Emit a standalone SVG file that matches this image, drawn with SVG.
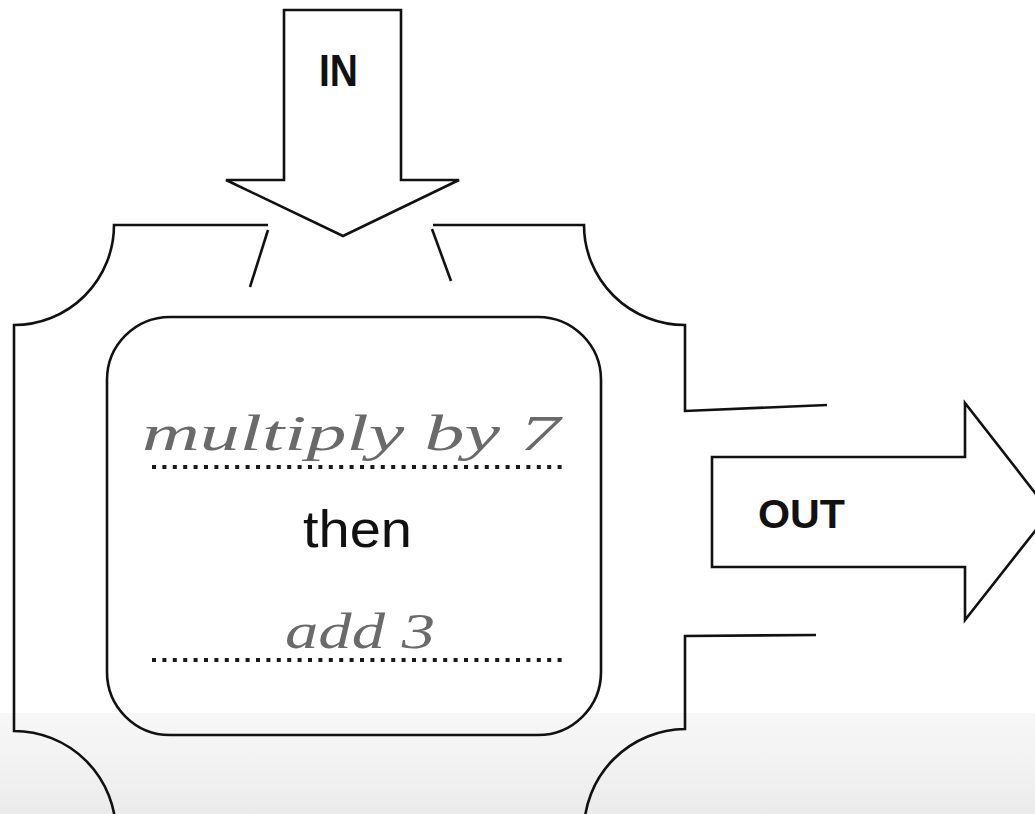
<svg xmlns="http://www.w3.org/2000/svg" width="1035" height="814" viewBox="0 0 1035 814">
  <defs>
    <linearGradient id="band" x1="0" y1="0" x2="0" y2="1">
      <stop offset="0" stop-color="#f7f7f7"/>
      <stop offset="0.5" stop-color="#f2f2f2"/>
      <stop offset="1" stop-color="#ebebeb"/>
    </linearGradient>
  </defs>
  <style>
    .ln { fill: none; stroke: #111; stroke-width: 2.6; stroke-linejoin: miter; }
    .arrow { fill: #fff; stroke: #111; stroke-width: 2.6; stroke-linejoin: miter; }
    .dots { fill: none; stroke: #1a1a1a; stroke-width: 4; stroke-dasharray: 4 6.4; }
    .hand { font-family: "Liberation Serif", "DejaVu Serif", serif; font-style: italic; fill: #6a6a6a; }
    .label { font-family: "Liberation Sans", Arial, sans-serif; font-weight: bold; fill: #111; }
    .then { font-family: "Liberation Sans", Arial, sans-serif; fill: #111; }
  </style>
  <rect x="0" y="0" width="1035" height="814" fill="#fff"/>
  <rect x="0" y="713" width="1035" height="101" fill="url(#band)"/>

  <g id="machine">
    <path class="ln" d="M268,225 H114 A100,100 0 0 1 14,325 V731 A102,102 0 0 1 116,833"/>
    <path class="ln" d="M433,225 H584 A101,100 0 0 0 685,325 V411 L827,405"/>
    <path class="ln" d="M816,635 L685,636 V729 A102,102 0 0 0 584,831"/>
    <path class="ln" d="M268,230 L250,287"/>
    <path class="ln" d="M432,229 L451,281"/>
  </g>

  <g id="rule-box">
    <rect class="ln" x="107" y="317" width="494" height="418" rx="63" ry="63"/>
    <text class="hand" x="142" y="450" font-size="50" textLength="418" lengthAdjust="spacingAndGlyphs">multiply by 7</text>
    <line class="dots" x1="152" y1="467" x2="565" y2="467"/>
    <text class="then" x="303" y="547" font-size="52" textLength="109" lengthAdjust="spacingAndGlyphs">then</text>
    <text class="hand" x="285" y="648" font-size="50" textLength="150" lengthAdjust="spacingAndGlyphs">add 3</text>
    <line class="dots" x1="152" y1="660" x2="565" y2="660"/>
  </g>

  <g id="in-arrow">
    <polygon class="arrow" points="284,10 401,10 401,180 459,180 343,236 226,180 284,180"/>
    <text class="label" x="319" y="86" font-size="45" textLength="39" lengthAdjust="spacingAndGlyphs">IN</text>
  </g>

  <g id="out-arrow">
    <polygon class="arrow" points="712,457 965,457 965,403 1050,512 965,620 965,567 712,567"/>
    <text class="label" x="758" y="528" font-size="41" textLength="87" lengthAdjust="spacingAndGlyphs">OUT</text>
  </g>
</svg>
